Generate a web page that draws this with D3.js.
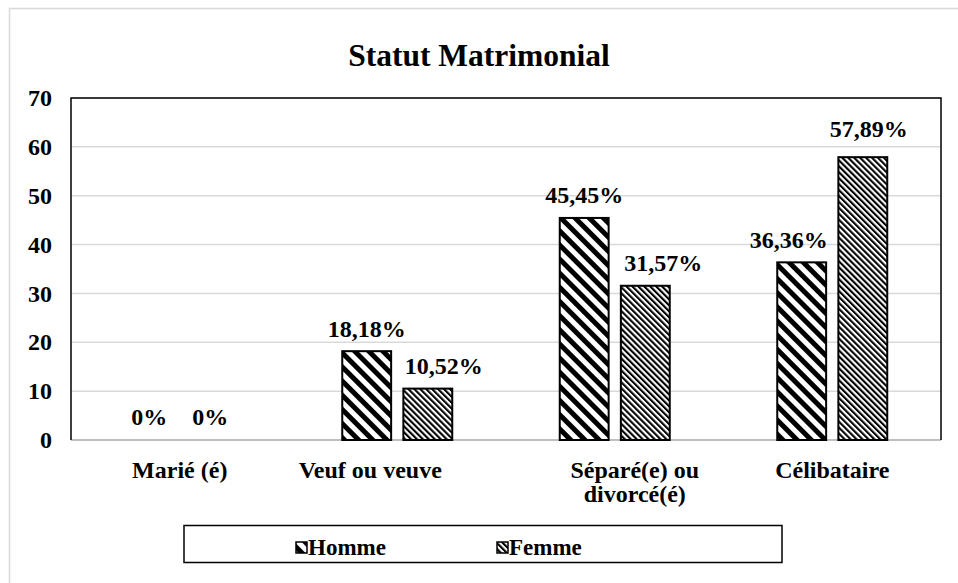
<!DOCTYPE html>
<html><head><meta charset="utf-8">
<script src="https://cdn.jsdelivr.net/npm/d3@7"></script>
<style>body{margin:0;background:#fff}svg{display:block}</style>
</head><body><svg id="c" width="958" height="583"></svg>
<script>
const categories = ["Marié (é)", "Veuf ou veuve", "Séparé(e) ou divorcé(é)", "Célibataire"];
const seriesNames = ["Homme", "Femme"];
const homme = [0, 18.18, 45.45, 36.36];
const femme = [0, 10.52, 31.57, 57.89];
const labelsHomme = ["0%", "18,18%", "45,45%", "36,36%"];
const labelsFemme = ["0%", "10,52%", "31,57%", "57,89%"];
const yTicks = [0, 10, 20, 30, 40, 50, 60, 70];

const FONT = '"Liberation Serif", "Times New Roman", Tinos, "DejaVu Serif", "Noto Serif", serif';
const svg = d3.select("#c").attr("font-family", FONT).attr("font-weight", "bold");
const m = {l: 71, r: 941, t: 98, b: 440};

svg.append("rect").attr("x", 9.5).attr("y", 8.5).attr("width", 960).attr("height", 600)
  .attr("fill", "none").attr("stroke", "#d9d9d9").attr("stroke-width", 1.5);

const defs = svg.append("defs");
function pat(id, period, band) {
  const p = defs.append("pattern").attr("id", id).attr("patternUnits", "userSpaceOnUse")
    .attr("width", period).attr("height", period).attr("patternTransform", "rotate(-45)");
  p.append("rect").attr("width", period).attr("height", period).attr("fill", "#fff");
  p.append("rect").attr("width", band).attr("height", period).attr("fill", "#000");
}
pat("pH", 10, 5);
pat("pF", 4.2, 2.1);
const fills = ["url(#pH)", "url(#pF)"];

const x0 = d3.scaleBand().domain(categories).range([m.l, m.r]);
const x1 = d3.scaleBand().domain(seriesNames).range([0, 110]).paddingInner(0.2);
const y = d3.scaleLinear().domain([0, 70]).range([m.b, m.t]);

svg.append("g").selectAll("line").data(yTicks.filter(d => d > 0)).join("line")
  .attr("x1", m.l).attr("x2", m.r).attr("y1", d => y(d)).attr("y2", d => y(d))
  .attr("stroke", "#d9d9d9").attr("stroke-width", 1.5);

svg.append("line").attr("x1", m.l).attr("x2", m.r).attr("y1", m.b).attr("y2", m.b)
  .attr("stroke", "#bfbfbf").attr("stroke-width", 2);

svg.append("path").attr("d", `M${m.l},${m.b}V${m.t}H${m.r}V${m.b}`)
  .attr("fill", "none").attr("stroke", "#000").attr("stroke-width", 1.5);

const yAxis = d3.axisLeft(y).tickValues(yTicks).tickSize(0).tickPadding(19);
const ya = svg.append("g").attr("transform", `translate(${m.l},0)`).call(yAxis);
ya.attr("font-family", FONT).attr("font-size", 24);
ya.select(".domain").remove();
ya.selectAll("text").attr("fill", "#000");

const data = categories.map((c, i) => ({c, vals: [homme[i], femme[i]], labs: [labelsHomme[i], labelsFemme[i]]}));
const labelNudge = [[[0,0],[0,0]],[[0,0],[16,0]],[[0,0],[18,0]],[[-13,0],[6,-6]]];
const g = svg.append("g");
data.forEach((d, i) => {
  const base = x0(d.c) + x0.bandwidth() / 2 - 55;
  d.vals.forEach((v, j) => {
    const bx = base + x1(seriesNames[j]);
    if (v > 0) {
      g.append("rect").attr("x", bx).attr("y", y(v)).attr("width", x1.bandwidth()).attr("height", y(0) - y(v))
        .attr("fill", fills[j]).attr("stroke", "#000").attr("stroke-width", 2);
    }
    g.append("text").attr("x", bx + x1.bandwidth() / 2 + labelNudge[i][j][0])
      .attr("y", y(v) - 23 + labelNudge[i][j][1]).attr("dy", "0.35em")
      .attr("text-anchor", "middle").attr("font-size", 24).text(d.labs[j]);
  });
});

const catLines = [["Marié (é)"], ["Veuf ou veuve"], ["Séparé(e) ou", "divorcé(é)"], ["Célibataire"]];
const catNudge = [0, -27, 20, 0];
categories.forEach((c, i) => {
  const cx = x0(c) + x0.bandwidth() / 2 + catNudge[i];
  catLines[i].forEach((l, k) => svg.append("text").attr("x", cx).attr("y", 478 + k * 24)
    .attr("text-anchor", "middle").attr("font-size", 24).text(l));
});

svg.append("text").attr("x", 479).attr("y", 66).attr("text-anchor", "middle").attr("font-size", 31.5).text("Statut Matrimonial");

svg.append("rect").attr("x", 184).attr("y", 525.5).attr("width", 598).attr("height", 37)
  .attr("fill", "#fff").attr("stroke", "#000").attr("stroke-width", 1.5);
const legX = [296, 497];
seriesNames.forEach((s, j) => {
  svg.append("rect").attr("x", legX[j]).attr("y", 542).attr("width", 11).attr("height", 11)
    .attr("fill", fills[j]).attr("stroke", "#000").attr("stroke-width", 1.5);
  svg.append("text").attr("x", legX[j] + 12).attr("y", 555).attr("font-size", 23).text(s);
});
</script></body></html>
